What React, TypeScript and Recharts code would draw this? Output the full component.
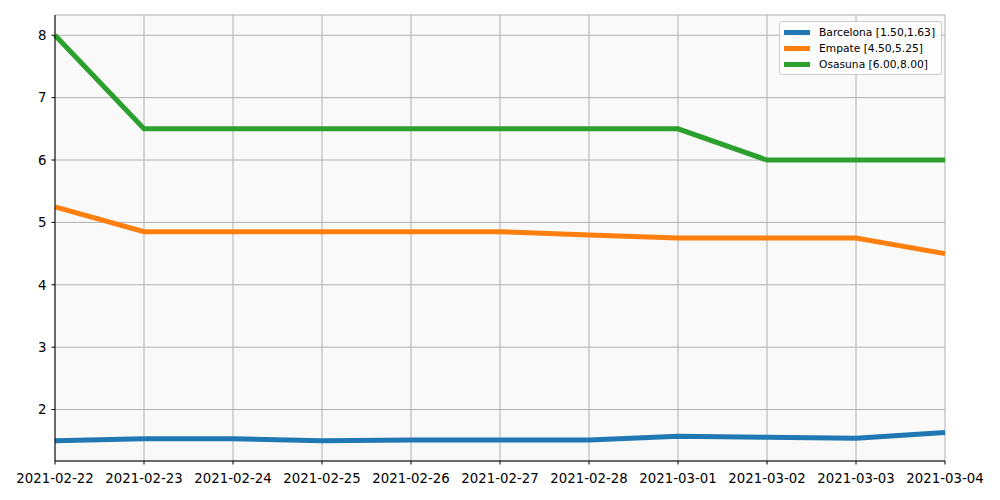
import { LineChart, Line, XAxis, YAxis, CartesianGrid } from "recharts";

const dates = [
  "2021-02-22", "2021-02-23", "2021-02-24", "2021-02-25", "2021-02-26", "2021-02-27",
  "2021-02-28", "2021-03-01", "2021-03-02", "2021-03-03", "2021-03-04",
];
const barcelona = [1.5, 1.53, 1.53, 1.5, 1.51, 1.51, 1.51, 1.57, 1.555, 1.54, 1.63];
const empate = [5.25, 4.85, 4.85, 4.85, 4.85, 4.85, 4.8, 4.75, 4.75, 4.75, 4.5];
const osasuna = [8.0, 6.5, 6.5, 6.5, 6.5, 6.5, 6.5, 6.5, 6.0, 6.0, 6.0];
const yTicks = [2, 3, 4, 5, 6, 7, 8];

const series = [
  { key: "barcelona", label: "Barcelona [1.50,1.63]", color: "#1f77b4" },
  { key: "empate", label: "Empate [4.50,5.25]", color: "#ff7f0e" },
  { key: "osasuna", label: "Osasuna [6.00,8.00]", color: "#2ca02c" },
];

const data = dates.map((d, i) => ({ date: d, barcelona: barcelona[i], empate: empate[i], osasuna: osasuna[i] }));

const font = "'DejaVu Sans', sans-serif";

// legend drawn outside recharts so it doesn't eat plot space
const LegendBox = () => (
  <div style={{
    position: "absolute", left: 779, top: 21, boxSizing: "border-box",
    border: "1px solid #cccccc", borderRadius: 3, background: "rgba(255,255,255,0.8)",
    padding: "2px 6px 2px 4px", fontFamily: font, fontSize: 10.7, color: "#000",
  }}>
    {series.map(s => (
      <div key={s.key} style={{ display: "flex", alignItems: "center", height: 16 }}>
        <div style={{ width: 26, height: 5, background: s.color, marginRight: 9 }} />
        <span>{s.label}</span>
      </div>
    ))}
  </div>
);

export default function App() {
  return (
    <div style={{ position: "absolute", left: 0, top: 0, width: 1000, height: 500, background: "#fff" }}>
      <LineChart width={1000} height={500} data={data} margin={{ top: 15, right: 55, bottom: 0, left: 0 }}>
        <CartesianGrid fill="#f9f9f9" stroke="#b0b0b0" strokeWidth={1} />
        <XAxis
          dataKey="date"
          height={39}
          interval={0}
          padding={{ left: 0, right: 0 }}
          tick={{ fill: "#000", fontSize: 13.3, fontFamily: font }}
          tickSize={3.5}
          tickMargin={9}
          stroke="#000"
          axisLine={{ stroke: "#000", strokeWidth: 1 }}
        />
        <XAxis xAxisId="top" dataKey="date" orientation="top" height={0} tick={false} tickLine={false} axisLine={{ stroke: "#000" }} />
        <YAxis
          type="number"
          domain={[1.175, 8.325]}
          ticks={yTicks}
          allowDataOverflow
          width={55}
          tick={{ fill: "#000", fontSize: 13.3, fontFamily: font }}
          tickSize={3.5}
          tickMargin={5}
          stroke="#000"
        />
        <YAxis yAxisId="right" orientation="right" width={0} domain={[1.175, 8.325]} tick={false} tickLine={false} axisLine={{ stroke: "#000" }} />
        {series.map(s => (
          <Line
            key={s.key}
            type="linear"
            dataKey={s.key}
            stroke={s.color}
            strokeWidth={5}
            dot={false}
            isAnimationActive={false}
          />
        ))}
      </LineChart>
      <LegendBox />
    </div>
  );
}
